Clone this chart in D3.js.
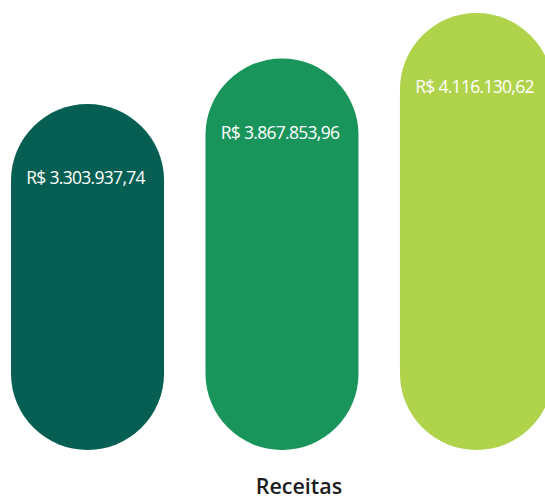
<!DOCTYPE html>
<html>
<head>
<meta charset="utf-8">
<script src="https://cdn.jsdelivr.net/npm/d3@7"></script>
<style>
  html, body { margin: 0; padding: 0; background: #fff; }
  svg { display: block; }
</style>
</head>
<body>
<div id="chart"></div>
<script>
// data
const categories = ["2021", "2022", "2023"];
const values = [3303937.74, 3867853.96, 4116130.62];
const colors = ["#065f52", "#19955c", "#b0d34c"];
const title = "Receitas";

const width = 545, height = 499;
const bottom = 450;

const svg = d3.select("#chart").append("svg")
    .attr("width", width)
    .attr("height", height);

const x = d3.scaleBand()
    .domain(categories)
    .range([11, 553])
    .paddingInner(0.213)
    .paddingOuter(0);

// bar tops are stepped by rank in the original design
const order = categories.slice().sort(function(a, b) {
  return values[categories.indexOf(a)] - values[categories.indexOf(b)];
});
const y = d3.scalePoint()
    .domain(order)
    .range([104, 13]);

const fmt = d3.formatLocale({
  decimal: ",", thousands: ".", grouping: [3], currency: ["R$ ", ""]
}).format("$,.2f");

const data = categories.map(function(c, i) {
  return {cat: c, value: values[i], color: colors[i]};
});

const r = x.bandwidth() / 2;

svg.append("g")
  .selectAll("rect")
  .data(data)
  .enter().append("rect")
    .attr("x", function(d) { return x(d.cat); })
    .attr("y", function(d) { return y(d.cat); })
    .attr("width", x.bandwidth())
    .attr("height", function(d) { return bottom - y(d.cat); })
    .attr("rx", r)
    .attr("ry", r)
    .attr("fill", function(d) { return d.color; });

svg.append("g")
  .selectAll("text")
  .data(data)
  .enter().append("text")
    .attr("x", function(d) { return x(d.cat) + r - 2; })
    .attr("y", function(d) { return y(d.cat) + 80; })
    .attr("text-anchor", "middle")
    .attr("fill", "#ffffff")
    .style("font-family", "'Open Sans', sans-serif")
    .style("font-size", "17.5px")
    .style("letter-spacing", "-0.7px")
    .text(function(d) { return fmt(d.value); });

svg.append("text")
    .attr("x", 299)
    .attr("y", 494)
    .attr("text-anchor", "middle")
    .attr("fill", "#1e1e1e")
    .style("font-family", "'Open Sans', sans-serif")
    .style("font-weight", "600")
    .style("font-size", "21.5px")
    .text(title);
</script>
</body>
</html>
